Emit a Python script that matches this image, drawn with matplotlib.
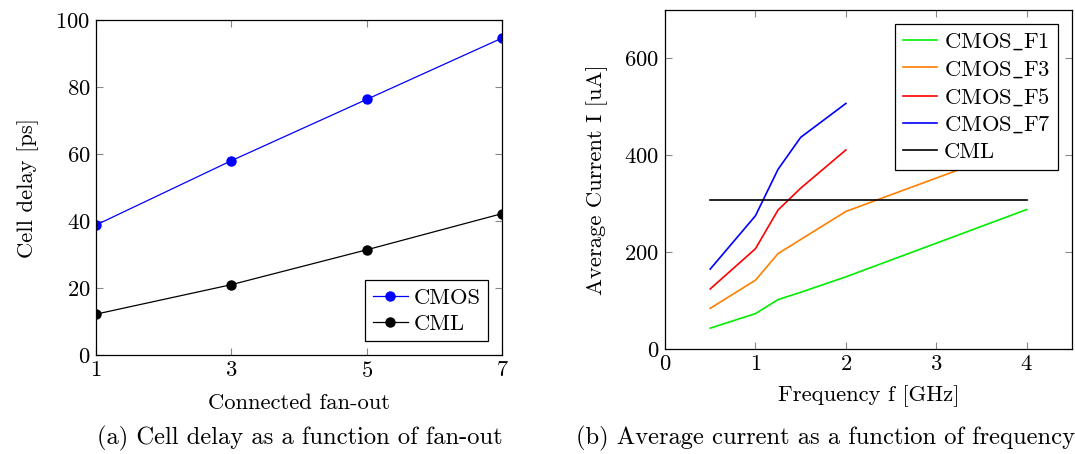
import matplotlib
matplotlib.use("Agg")
import matplotlib.pyplot as plt

plt.rcParams["font.family"] = "serif"
plt.rcParams["font.serif"] = ["cmr10", "DejaVu Serif"]
plt.rcParams["mathtext.fontset"] = "cm"
plt.rcParams["axes.formatter.use_mathtext"] = True

# --- (a) cell delay vs fan-out ---
fanout = [1, 3, 5, 7]
delay_cmos = [38.8, 58.0, 76.3, 94.6]
delay_cml = [12.2, 21.0, 31.4, 42.2]

# --- (b) average current vs frequency ---
f_f1 = [0.5, 1.0, 1.25, 1.5, 2.0, 4.0]
i_f1 = [43, 73, 102, 117, 149, 288]
f_f3 = [0.5, 1.0, 1.25, 2.0, 4.0]
i_f3 = [84, 142, 197, 284, 422]
f_f57 = [0.5, 1.0, 1.25, 1.5, 2.0]
i_f5 = [124, 207, 287, 332, 411]
i_f7 = [165, 275, 371, 437, 507]
f_cml = [0.5, 4.0]
i_cml = [308, 308]

FS = 16.3

fig = plt.figure(figsize=(10.75, 4.54), dpi=100)
ax1 = fig.add_axes([0.0893, 0.218, 0.3777, 0.738])
ax2 = fig.add_axes([0.6186, 0.2313, 0.3786, 0.7467])


def style(ax):
    ax.tick_params(direction="in", top=True, right=True, labelsize=FS,
                   color="#888888", length=5, width=0.8, pad=4)
    for s in ax.spines.values():
        s.set_linewidth(0.9)


ax1.plot(fanout, delay_cmos, "-o", color="blue", lw=0.9, ms=6.5, label="CMOS")
ax1.plot(fanout, delay_cml, "-o", color="black", lw=0.9, ms=6.5, label="CML")
ax1.set_xlim(1, 7)
ax1.set_ylim(0, 100)
ax1.set_xticks([1, 3, 5, 7])
ax1.set_yticks(range(0, 101, 20))
ax1.set_xlabel("Connected fan-out", fontsize=FS, labelpad=9)
ax1.set_ylabel("Cell delay [ps]", fontsize=FS, labelpad=12)
style(ax1)
leg = ax1.legend(loc="lower right", fontsize=FS, fancybox=False, framealpha=1,
                 edgecolor="black", handlelength=1.55, handletextpad=0.25,
                 borderaxespad=0.6, labelspacing=0.25, borderpad=0.35)
leg.get_frame().set_linewidth(0.9)

ax2.plot(f_f1, i_f1, color="#00ee00", lw=1.2, label=r"CMOS$\_$F1")
ax2.plot(f_f3, i_f3, color="#ff8000", lw=1.2, label=r"CMOS$\_$F3")
ax2.plot(f_f57, i_f5, color="red", lw=1.2, label=r"CMOS$\_$F5")
ax2.plot(f_f57, i_f7, color="blue", lw=1.2, label=r"CMOS$\_$F7")
ax2.plot(f_cml, i_cml, color="black", lw=1.2, label="CML")
ax2.set_xlim(0, 4.5)
ax2.set_ylim(0, 700)
ax2.set_xticks([0, 1, 2, 3, 4])
ax2.set_yticks([0, 200, 400, 600])
ax2.set_xlabel("Frequency f [GHz]", fontsize=FS, labelpad=8)
ax2.set_ylabel("Average Current I [uA]", fontsize=FS, labelpad=12)
style(ax2)
leg2 = ax2.legend(loc="upper right", fontsize=FS, fancybox=False, framealpha=1,
                  edgecolor="black", handlelength=1.5, handletextpad=0.3,
                  borderaxespad=0.6, labelspacing=0.3, borderpad=0.35)
leg2.get_frame().set_linewidth(0.9)

fig.text(0.279, 0.02, "(a) Cell delay as a function of fan-out", ha="center",
         fontsize=17.7)
fig.text(0.768, 0.02, "(b) Average current as a function of frequency",
         ha="center", fontsize=17.7)

fig.savefig("out.png", dpi=100)
